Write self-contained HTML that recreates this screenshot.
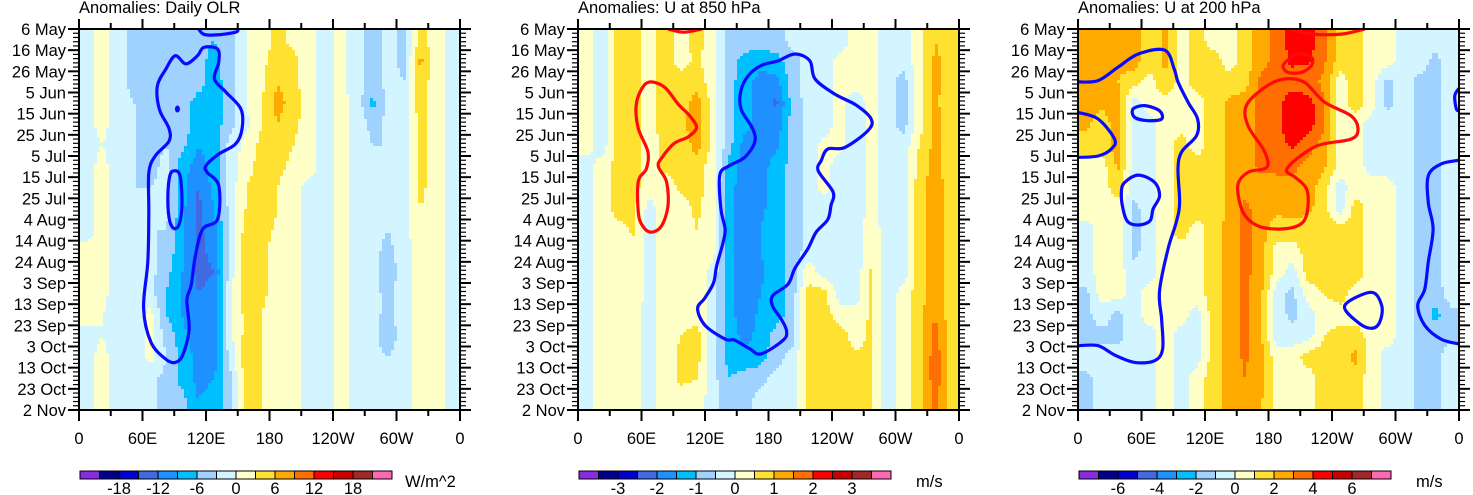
<!DOCTYPE html>
<html><head><meta charset="utf-8">
<style>
html,body{margin:0;padding:0;background:#fff;}
svg{display:block;font-family:"Liberation Sans",Arial,sans-serif;}
</style></head>
<body>
<svg id="chart" width="1473" height="495" viewBox="0 0 1473 495" xmlns="http://www.w3.org/2000/svg"></svg>
<script>
// ---- data ----
const palette=["#8a2be2","#00008b","#0000cd","#4169e1","#1e90ff","#00bfff","#a0d2ff","#d2f5ff","#ffffc8","#ffe132","#ffaa00","#ff6e00","#ff0000","#c80000","#a02828","#ff69b4"];
const lonCenters=[7.5,22.5,37.5,52.5,67.5,82.5,97.5,112.5,127.5,142.5,157.5,172.5,187.5,202.5,217.5,232.5,247.5,262.5,277.5,292.5,307.5,322.5,337.5,352.5];
const dayCenters=[5,15,25,35,45,55,65,75,85,95,105,115,125,135,145,155,165,175];
const dayLabels=["6 May","16 May","26 May","5 Jun","15 Jun","25 Jun","5 Jul","15 Jul","25 Jul","4 Aug","14 Aug","24 Aug","3 Sep","13 Sep","23 Sep","3 Oct","13 Oct","23 Oct","2 Nov"];
const lonLabels=["0","60E","120E","180","120W","60W","0"];
const titles=["Anomalies: Daily OLR","Anomalies: U at 850 hPa","Anomalies: U at 200 hPa"];
const units=["W/m^2","m/s","m/s"];
const steps=[3,0.5,1];
const cbLabelsOLR=["-18","-12","-6","0","6","12","18"];
const cbLabelsU850=["-3","-2","-1","0","1","2","3"];
const cbLabelsU200=["-6","-4","-2","0","2","4","6"];

const olr=[
[-1,1,-2,-4,-4,-4,-4,-5,-6,-4,0,1,4,2,1,-1,1,-2,-4,-2,-4,4,1,-1],
[-1,1,-2,-4,-4,-4,-4,-5,-7,-4,0,2,5,4,1,-1,1,-2,-4,-2,-4,7,1,-1],
[-1,1,-2,-4,-4,-4,-4,-5,-7,-5,0,2,6,4,1,-1,1,-2,-4,-2,-3,5,1,-1],
[-1,1,-2,-3,-4,-4,-5,-7,-7,-5,0,3,7,5,1,-1,1,-1,-7,-2,-2,5,1,-1],
[-1,1,-2,-3,-4,-5,-4,-8,-8,-4,-1,3,6,4,1,-1,1,-1,-4,-2,-2,4,1,-1],
[-1,0,-2,-3,-4,-3,-5,-9,-8,-2,1,4,5,3,1,-1,1,-1,-3,-3,-2,4,1,-1],
[-1,1,-2,-3,-4,-2,-8,-10,-8,-2,2,4,4,2,1,-1,1,-1,-3,-3,-2,4,1,-1],
[-1,1,-2,-3,-3,-2,-8,-12,-8,-2,3,4,3,1,-1,-1,1,-1,-3,-3,-2,4,1,-1],
[-1,1,-2,-3,-3,-2,-8,-13,-9,-2,3,6,3,1,-1,-1,1,-1,-2,-3,-1,3,1,-1],
[-1,1,-2,-3,-3,-3,-8,-13,-10,-2,4,5,2,1,-1,-1,1,-1,-2,-3,-1,2,1,-1],
[1,1,-2,-3,-2,-4,-8,-13,-11,-2,6,4,1,1,-1,-1,1,-1,-2,-4,-1,1,1,-1],
[1,1,-2,-3,-2,-5,-9,-13,-12,-2,6,4,1,1,-1,-1,1,-1,-2,-5,-1,1,1,-1],
[1,1,-2,-3,-2,-6,-9,-12,-11,-1,5,4,1,1,-1,-1,1,-1,-2,-4,-1,1,1,-1],
[1,0,-2,-2,1,-6,-9,-12,-11,-1,4,3,1,1,-1,-1,1,-1,-2,-4,-1,1,1,-1],
[-1,0,-2,-2,1,-4,-8,-11,-11,-1,4,3,1,1,-1,-1,1,-1,-2,-5,-1,1,1,-1],
[-1,1,-2,-2,1,-3,-7,-10,-11,-2,5,3,1,1,-1,-1,1,-1,-2,-3,-1,1,1,-1],
[-1,1,-2,-3,-2,-4,-7,-10,-9,-4,4,3,1,1,-1,-1,1,-1,-2,-2,-1,1,1,-1],
[-1,1,-2,-3,-2,-4,-5,-9,-8,-4,4,3,1,1,-1,-1,1,-1,-2,-2,-1,1,1,-1]];

const u850=[
[0.2,-0.3,0.7,0.7,0.3,0.7,0.3,0.7,0.2,-0.7,-0.7,-0.7,-0.7,-0.3,-0.3,-0.3,-0.3,0.2,0.2,-0.3,-0.3,0.3,1.0,0.8],
[0.2,-0.3,0.7,0.7,0.3,0.7,0.3,0.6,0.2,-0.7,-1.2,-1.3,-1.2,-0.7,-0.3,-0.3,0.2,0.2,0.2,-0.3,-0.3,0.3,1.1,0.8],
[0.2,-0.3,0.7,0.7,0.3,0.7,0.7,0.8,0.2,-0.8,-1.3,-1.7,-1.7,-0.7,-0.3,-0.3,0.2,0.2,0.2,-0.3,-0.7,0.3,1.1,0.8],
[0.2,-0.3,0.7,0.7,0.3,0.7,0.8,1.2,0.3,-0.8,-1.3,-1.8,-2.1,-0.8,-0.3,-0.3,0.2,-0.3,0.2,-0.3,-0.7,0.3,1.1,0.7],
[0.2,-0.3,0.7,0.7,0.3,0.8,0.9,1.3,0.3,-0.8,-1.3,-1.8,-1.8,-0.8,-0.3,-0.3,0.2,-0.3,0.2,-0.3,-0.7,0.3,1.2,0.7],
[0.2,-0.3,0.7,0.7,0.3,0.6,0.7,1.2,0.3,-0.8,-1.7,-1.7,-1.6,-0.8,-0.3,0.2,0.2,-0.3,0.2,-0.3,-0.3,0.5,1.2,0.7],
[-0.2,0.2,0.7,0.7,0.3,0.6,0.6,0.8,0.2,-1.2,-1.8,-1.7,-1.3,-0.8,-0.3,0.2,-0.3,-0.3,0.2,-0.3,-0.3,0.7,1.2,0.7],
[-0.2,0.2,0.7,0.7,0.2,0.3,0.6,0.7,0.2,-1.3,-1.8,-1.6,-1.3,-0.8,-0.3,0.2,-0.3,-0.3,0.2,-0.3,-0.3,0.8,1.3,0.7],
[-0.2,0.2,0.7,0.6,-0.2,0.3,0.3,0.6,0.2,-1.3,-1.8,-1.6,-1.3,-0.8,-0.3,-0.3,-0.3,-0.3,0.2,-0.3,-0.3,0.8,1.3,0.7],
[-0.2,0.2,0.3,0.6,-0.2,0.3,0.3,0.5,0.2,-1.3,-1.8,-1.5,-1.2,-0.8,-0.3,-0.3,-0.3,-0.3,0.3,-0.3,-0.3,0.8,1.3,0.7],
[-0.2,0.2,0.3,0.3,-0.2,0.3,0.3,0.3,0.2,-1.3,-1.8,-1.5,-1.2,-0.8,-0.3,-0.3,-0.3,-0.3,0.3,-0.3,-0.3,0.8,1.3,0.7],
[-0.2,0.2,0.3,0.3,-0.2,0.3,0.3,0.3,-0.2,-1.3,-1.8,-1.6,-1.2,-0.8,0.3,-0.3,-0.3,-0.3,0.6,-0.3,-0.3,0.8,1.3,0.7],
[-0.2,0.2,0.3,0.3,-0.2,0.3,0.3,0.3,-0.2,-1.3,-1.8,-1.5,-1.2,-0.8,0.7,0.7,-0.3,-0.3,0.6,-0.3,0.2,0.8,1.3,0.7],
[-0.2,0.2,0.3,0.2,-0.2,0.3,0.3,0.3,-0.2,-1.3,-1.8,-1.4,-1.2,-0.8,0.7,0.7,0.3,0.2,0.6,-0.3,0.2,0.8,1.5,0.7],
[-0.2,0.2,0.3,0.2,-0.2,0.3,0.5,0.7,-0.3,-1.2,-1.7,-1.3,-0.8,-0.7,0.7,0.7,0.7,0.3,0.6,-0.3,0.2,0.8,1.7,0.7],
[-0.2,0.2,0.3,0.2,-0.2,0.3,0.6,0.7,-0.3,-1.2,-1.3,-1.2,-0.7,-0.3,0.7,0.7,0.7,0.6,0.6,-0.3,0.2,0.8,1.8,0.8],
[-0.2,0.2,0.3,0.2,-0.2,0.3,0.6,0.5,-0.3,-1.0,-0.8,-0.7,-0.3,-0.3,0.7,0.7,0.7,0.7,0.6,-0.3,0.2,0.8,1.8,0.8],
[-0.2,0.2,0.3,0.2,-0.2,0.3,0.3,0.3,-0.3,-0.8,-0.7,-0.3,-0.3,-0.3,0.7,0.7,0.7,0.6,0.6,-0.3,0.2,0.8,1.7,0.8]];

const u200=[
[2.5,2.5,2.2,2.5,1.5,2.2,0.5,1.5,0.5,0.5,1.5,2.5,3.3,4.5,4.5,3.5,1.5,1.5,0.5,0.5,-0.5,-0.5,-0.5,-0.5],
[2.5,2.5,2.2,2.5,1.5,2.2,0.5,1.5,1.5,0.5,1.5,2.5,3.5,4.2,4.2,3.2,1.5,1.5,0.5,0.5,-0.5,-0.5,-1.3,-0.5],
[2.2,2.5,2.0,1.5,0.5,2.0,0.5,1.5,1.5,1.5,1.5,3.3,3.5,3.5,3.3,2.8,0.5,1.5,0.5,-1.3,-0.5,-1.3,-1.3,-0.5],
[2.5,2.2,2.5,-0.5,0.5,0.5,0.5,0.5,1.5,2.2,2.5,3.3,3.6,4.6,4.5,3.0,0.5,1.5,0.5,-1.3,-0.5,-1.3,-1.3,-0.5],
[2.2,1.5,2.5,-0.5,-0.5,0.5,0.5,0.5,1.5,2.2,2.5,3.3,3.6,5.0,4.5,3.2,0.5,0.5,-0.5,-0.5,-0.5,-1.3,-1.3,-0.5],
[1.5,1.5,2.5,-0.5,-0.5,0.5,1.5,0.5,1.5,2.2,2.5,3.3,3.4,4.2,3.5,2.5,0.5,0.5,-0.5,-0.5,-0.5,-1.3,-1.3,-0.5],
[0.5,0.5,2.2,-0.5,-0.5,0.5,1.5,1.5,1.5,2.2,2.5,3.2,3.3,3.3,2.5,2.2,0.5,0.5,-0.5,-0.5,-0.5,-1.3,-1.3,-0.5],
[0.5,0.5,1.5,-0.5,-0.5,0.5,1.5,1.5,1.5,2.2,2.5,2.5,2.5,2.6,2.5,1.5,-0.5,0.5,0.5,0.5,-0.5,-1.3,-1.3,-0.5],
[0.5,0.5,0.5,-1.3,-0.5,0.5,1.5,1.5,1.5,2.2,3.3,2.5,2.2,2.5,2.2,1.5,-0.5,1.5,0.5,0.5,-0.5,-1.3,-1.3,-0.5],
[-0.5,0.5,0.5,-1.3,-0.5,0.5,1.5,0.5,1.5,2.3,3.3,2.5,1.5,1.5,1.5,1.5,1.5,1.5,0.5,0.5,-0.5,-1.3,-1.3,-0.5],
[-0.5,0.5,0.5,-1.3,-0.5,0.5,0.5,0.5,1.5,2.3,3.3,2.5,0.5,0.5,1.5,1.5,1.5,1.5,0.5,0.5,-0.5,-1.3,-1.3,-0.5],
[-0.5,0.5,0.5,-0.5,-0.5,0.5,0.5,0.5,1.5,2.3,3.3,2.5,0.5,-0.5,1.5,1.5,1.5,1.5,0.5,0.5,-0.5,-1.3,-1.3,-0.5],
[-1.3,0.5,0.5,-0.5,0.5,0.5,0.5,0.5,1.5,2.3,3.3,2.3,-0.5,-1.3,0.5,1.0,1.5,0.5,0.5,0.5,-0.5,-1.3,-1.5,-0.5],
[-1.3,-0.5,-1.3,-0.5,0.5,0.5,0.5,-0.5,1.5,2.3,3.3,2.3,-0.5,-1.3,-0.5,0.5,0.5,0.5,0.5,0.5,-0.5,-1.3,-2.3,-1.3],
[-1.3,-1.3,-1.3,-0.5,-0.5,0.5,-0.5,-0.5,1.5,2.3,3.3,2.3,-0.5,-0.5,-0.5,1.0,1.5,1.5,0.5,0.5,-0.5,-1.3,-1.3,-1.3],
[-0.5,-0.5,-0.5,-0.5,-0.5,0.5,-0.5,-0.5,1.5,2.3,3.2,2.3,0.5,0.5,1.5,1.5,1.5,2.3,0.5,-0.5,-0.5,-1.3,-1.3,-0.5],
[-1.3,-0.5,-0.5,-0.5,-0.5,0.5,-0.5,0.5,1.5,2.3,3.0,2.3,0.5,0.5,0.5,1.5,1.5,1.5,0.5,-0.5,-0.5,-1.3,-1.3,-0.5],
[-1.3,-0.5,-0.5,-0.5,-0.5,0.5,-0.5,0.5,1.5,2.3,2.5,2.2,0.5,0.5,0.5,1.5,1.5,1.5,0.5,-0.5,-0.5,-1.3,-1.3,-0.5]];

// contours: [lon, day] pairs
const olrBlueMain=[[91,12.6],[101,16.5],[112,12.6],[118,8.7],[131,9.5],[132,15.8],[128,23.6],[139,29.9],[153,37.8],[154,47.3],[148,54.3],[132,59.1],[120,64.6],[121,67.7],[132,74],[131,89.8],[117,94.5],[110,107],[106,121],[102,128],[104,142],[98,154],[91,157.5],[82,156],[68,148],[61,132],[65,110],[66,87],[66,68],[72,60],[85,53],[85,47],[76,38],[74,27],[82,19]];
const olrBlueInner=[[90,67],[95,68.5],[97,76],[97,86],[94,93],[89,94],[85,89],[84,78],[86,69]];
const olrBlueTop=[[113,0],[118,2.5],[130,2.8],[148,1.5],[150,0]];
const u850Red=[[69,25],[82,27.6],[94.5,35.4],[105.5,41],[112,46.5],[104,51],[91,54],[79,61],[76,65],[83.5,72],[85,83.5],[79,93],[69,96],[61,93],[57,86.6],[57,72],[64.6,66],[66,58],[57,47],[55,36],[61,27.6]];
const u850RedTop=[[85,0],[100,1.5],[117,0]];
const u850Blue=[[205,11.8],[219,15],[224,23.6],[242.5,30.7],[263,36],[277,42.5],[274,48],[252,56],[236,56.7],[230,62],[227,67],[241,77],[239,83.5],[236,90],[225,96],[217,104],[205,113],[198.5,120.5],[184,126],[184,131],[192,137],[197,142.5],[194,147],[173,153.5],[162,151],[148,147],[139,146.5],[120,140],[113,132],[120,127],[128,120],[131,112],[137,101],[139,94.5],[135,85],[134,69],[143,64.6],[157.5,60.6],[167,53.5],[165,47],[154,37.8],[154,29],[161,22],[173,17.3],[189,15]];
const u200Blue1=[[0,25],[19,24.4],[38,18],[57,11.8],[82,10],[91,19],[94.5,25],[104,34.6],[113,42.5],[112,50.4],[98,58],[94.5,66],[96,82],[93,91],[85,104],[77,124],[79,137],[80,151],[72.5,156.7],[53.5,157.5],[34.6,154],[19,149.6],[0,149.6]];
const u200Blue2=[[0,39.4],[19,42.5],[34.6,52],[31.5,56.7],[19,60],[0,60.6]];
const u200Blue3=[[52,37.8],[63,36.2],[77,38.6],[79,42.5],[66,43.3],[53.5,41.7]];
const u200Blue4=[[44,72.5],[57,69],[72.5,72.5],[77,79],[71,85],[68,90.6],[57,92.6],[47,91],[42.5,85],[41,77]];
const u200Blue5=[[252,130.7],[277,124.4],[287,130.7],[285,138.6],[277,141.4],[264.6,138.6]];
const u200Blue6=[[360,28],[356,31.5],[357.5,37.8],[360,38.6]];
const u200Blue7=[[360,62],[343,63.8],[331,69.3],[331,82],[335.5,94.5],[331,110],[327.6,123],[321,130.7],[327.6,140],[343,146.5],[360,148.8]];
const u200RedTop=[[201.6,0],[220.5,2.4],[249,2.4],[271,0]];
const u200Red2=[[208,11.8],[220.5,13.4],[220.5,17.3],[211,20.5],[198.5,20.5],[193.7,17.3],[201.6,13.4]];
const u200Red3=[[176.4,27.6],[195,23.6],[214,25.2],[233,34.6],[258,41],[264.6,47.3],[258,52],[227,55],[205,62],[197,67],[205,70],[216,75.6],[217,85],[211,92],[192,94.5],[170,93],[156,86.6],[151,74],[160.6,67.7],[176.4,66],[179.5,63],[175,56.7],[160.6,45.7],[159,36.2]];

// ---- rendering ----
const NS="http://www.w3.org/2000/svg";
const svg=document.getElementById('chart');
function mk(tag,attrs,parent){const e=document.createElementNS(NS,tag);for(const k in attrs)e.setAttribute(k,attrs[k]);(parent||svg).appendChild(e);return e;}
const PW=381,PH=381,PY=29,FS=16.5;
const panelX=[79,578,1078];
const fields=[olr,u850,u200];
const cbLabelSets=[cbLabelsOLR,cbLabelsU850,cbLabelsU200];
const contourSets=[
 [[olrBlueMain,true,"#0a0aff"],[olrBlueInner,true,"#0a0aff"],[olrBlueTop,false,"#0a0aff"]],
 [[u850Red,true,"#ff0a0a"],[u850RedTop,false,"#ff0a0a"],[u850Blue,true,"#0a0aff"]],
 [[u200Blue1,false,"#0a0aff"],[u200Blue2,false,"#0a0aff"],[u200Blue3,true,"#0a0aff"],[u200Blue4,true,"#0a0aff"],[u200Blue5,true,"#0a0aff"],[u200Blue6,false,"#0a0aff"],[u200Blue7,false,"#0a0aff"],[u200RedTop,false,"#ff0a0a"],[u200Red2,true,"#ff0a0a"],[u200Red3,true,"#ff0a0a"]]
];
function levelIndex(v,step){let i=Math.floor(v/step)+8;return Math.max(0,Math.min(15,i));}
function sample(F,lon,day){
  let fx=(lon-lonCenters[0])/15, fy=(day-dayCenters[0])/10;
  fx=Math.max(0,Math.min(lonCenters.length-1,fx)); fy=Math.max(0,Math.min(dayCenters.length-1,fy));
  const i0=Math.floor(fx),j0=Math.floor(fy),i1=Math.min(i0+1,lonCenters.length-1),j1=Math.min(j0+1,dayCenters.length-1);
  const tx=fx-i0,ty=fy-j0;
  return (F[j0][i0]*(1-tx)+F[j0][i1]*tx)*(1-ty)+(F[j1][i0]*(1-tx)+F[j1][i1]*tx)*ty;
}
function smoothPath(pts,closed){
  const n=pts.length;let d="M"+pts[0][0].toFixed(1)+","+pts[0][1].toFixed(1);
  const get=i=>closed?pts[(i+n)%n]:pts[Math.max(0,Math.min(n-1,i))];
  const segs=closed?n:n-1;
  for(let i=0;i<segs;i++){
    const p0=get(i-1),p1=get(i),p2=get(i+1),p3=get(i+2);
    const c1=[p1[0]+(p2[0]-p0[0])/6,p1[1]+(p2[1]-p0[1])/6];
    const c2=[p2[0]-(p3[0]-p1[0])/6,p2[1]-(p3[1]-p1[1])/6];
    d+="C"+c1[0].toFixed(1)+","+c1[1].toFixed(1)+" "+c2[0].toFixed(1)+","+c2[1].toFixed(1)+" "+p2[0].toFixed(1)+","+p2[1].toFixed(1);
  }
  return d+(closed?"Z":"");
}

for(let p=0;p<3;p++){
  const x0=panelX[p];
  const xS=lon=>x0+lon/360*PW;
  const yS=day=>PY+day/180*PH;
  const g=mk('g',{});
  
  
  const clipId='clip'+p;
  const cp=mk('clipPath',{id:clipId},g);mk('rect',{x:x0,y:PY,width:PW,height:PH},cp);
  const field=mk('g',{'clip-path':'url(#'+clipId+')'},g);
  
  
  const F=fields[p],step=steps[p];
  const NX=127,NY=127;
  for(let j=0;j<NY;j++){
    const d0=j*180/NY,d1=(j+1)*180/NY,dm=(d0+d1)/2;
    let runStart=0,runIdx=-1;
    for(let i=0;i<=NX;i++){
      let idx=-2;
      if(i<NX){const lm=(i+0.5)*360/NX;idx=levelIndex(sample(F,lm,dm),step);}
      if(idx!==runIdx){
        if(runIdx>=0){
          const r=mk('rect',{x:xS(runStart*360/NX).toFixed(2),y:yS(d0).toFixed(2),width:(xS(i*360/NX)-xS(runStart*360/NX)+0.6).toFixed(2),height:(yS(d1)-yS(d0)+0.6).toFixed(2),fill:palette[runIdx]},field);
          
          
        }
        runStart=i;runIdx=idx;
      }
    }
  }
  contourSets[p].forEach(c=>{
    const pts=c[0].map(q=>[xS(q[0]),yS(q[1])]);
    const path=mk('path',{d:smoothPath(pts,c[1]),fill:'none',stroke:c[2],'stroke-width':3.2,'stroke-linejoin':'round'},field);
    
    
  });
  if(p===0){
    const dot=mk('ellipse',{cx:xS(93),cy:yS(37.8),rx:2.5,ry:3.5,fill:'#0a0aff'},field);
    
    
  }
  const fr=mk('rect',{x:x0,y:PY,width:PW,height:PH,fill:'none',stroke:'#000','stroke-width':2},g);
  
  
  for(let d=0;d<=180;d+=2){
    const major=d%10===0;const L=major?11:6;
    mk('line',{x1:x0-L,x2:x0,y1:yS(d),y2:yS(d),stroke:'#000','stroke-width':major?2:1.2},g);
    mk('line',{x1:x0+PW,x2:x0+PW+L,y1:yS(d),y2:yS(d),stroke:'#000','stroke-width':major?2:1.2},g);
  }
  dayLabels.forEach((t,k)=>{
    const tx=mk('text',{x:x0-13,y:yS(k*10)+6,'text-anchor':'end','font-size':FS,fill:'#000'},g);
    tx.textContent=t;
    
    
  });
  for(let l=0;l<=360;l+=30){
    const major=l%60===0;
    mk('line',{x1:xS(l),x2:xS(l),y1:PY+PH,y2:PY+PH+(major?11:6),stroke:'#000','stroke-width':2},g);
    mk('line',{x1:xS(l),x2:xS(l),y1:PY,y2:PY-(major?10:6),stroke:'#000','stroke-width':2},g);
  }
  lonLabels.forEach((t,k)=>{
    const tx=mk('text',{x:xS(k*60),y:444,'text-anchor':'middle','font-size':FS,fill:'#000'},g);
    tx.textContent=t;
    
    
  });
  const ti=mk('text',{x:x0,y:13,'font-size':FS,fill:'#000'},g);
  ti.textContent=titles[p];
  
  
  const cb=mk('g',{},g);
  
  
  const cbx=x0+1,cbw=312/16;
  palette.forEach((c,k)=>{
    const r=mk('rect',{x:cbx+k*cbw,y:471,width:cbw,height:8,fill:c,stroke:'#000','stroke-width':1},cb);
    
    
  });
  cbLabelSets[p].forEach((t,k)=>{
    const tx=mk('text',{x:cbx+(2+2*k)*cbw,y:494,'text-anchor':'middle','font-size':FS,fill:'#000'},cb);
    tx.textContent=t;
    
    
  });
  const un=mk('text',{x:p===0?405:x0+338,y:487,'font-size':FS,fill:'#000'},cb);
  un.textContent=units[p];
  
  
}
</script>
</body></html>
